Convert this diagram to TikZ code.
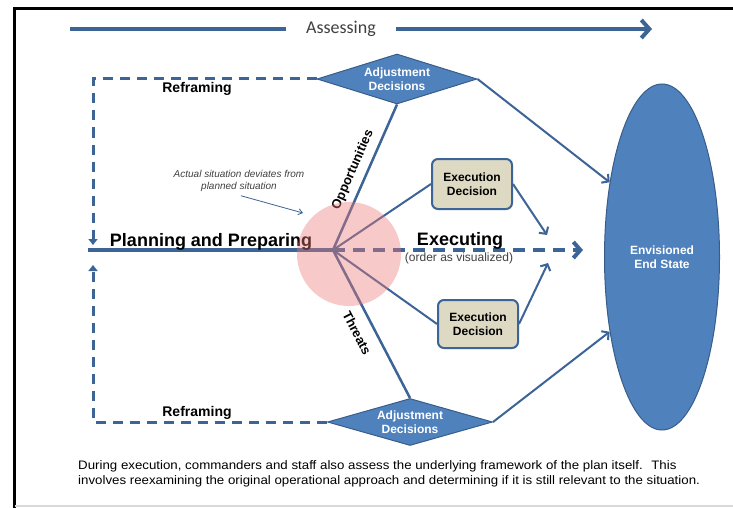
\documentclass[tikz,border=0pt]{standalone}
\usepackage{fontspec}
\setmainfont{Liberation Sans}
\newfontfamily\califont{Carlito}
\newfontfamily\widefont[FakeStretch=1.08]{Liberation Sans}
\usetikzlibrary{shapes.geometric,arrows.meta}
\definecolor{lineblue}{RGB}{60,100,150}
\definecolor{fillblue}{RGB}{79,129,189}
\definecolor{edgeblue}{RGB}{56,93,138}
\definecolor{tanc}{RGB}{221,217,195}
\definecolor{pinkc}{RGB}{235,120,120}
\definecolor{txtgray}{RGB}{64,64,64}
\begin{document}
\begin{tikzpicture}[x=1pt,y=-1pt,
  conn/.style={draw=lineblue, line width=2pt},
  thinbarb/.style={-{Straight Barb[length=5pt,width=11pt]}},
  reframe/.style={draw=lineblue, line width=3pt, dash pattern=on 10pt off 7pt, -{Triangle[length=6pt,width=9pt]}},
  adj/.style={diamond, aspect=3.5, inner sep=0pt, fill=fillblue, draw=edgeblue, line width=1pt, text=white, font=\bfseries\fontsize{12}{14.5}\selectfont, align=center},
  edbox/.style={rectangle, rounded corners=6pt, minimum width=80pt, minimum height=50pt, fill=tanc, draw=lineblue, line width=2pt, font=\bfseries\fontsize{12}{14.5}\selectfont, align=center},
  bold18/.style={font=\bfseries\fontsize{18}{20}\selectfont},
  reftext/.style={font=\bfseries\fontsize{14}{16}\selectfont},
  rotlabel/.style={font=\bfseries\fontsize{13}{15}\selectfont, inner sep=1pt}
]
\useasboundingbox (0,0) rectangle (733,508);
\fill[white] (0,0) rectangle (733,508);
% frame
\draw[black, line width=3pt] (14.5,508) -- (14.5,8.5) -- (733,8.5);
\draw[black!15, line width=1.5pt] (14.5,506) -- (733,506);

% Assessing
\node[font=\califont\fontsize{18}{20}\selectfont, text=txtgray, inner xsep=20pt] (assess) at (341,29) {Assessing};
\coordinate (asA) at (70,29);
\coordinate (asB) at (652,29);
\draw[lineblue, line width=4pt] (asA) -- (assess.west);
\draw[lineblue, line width=4pt, -{Straight Barb[length=8pt,width=18pt]}] (assess.east) -- (asB);

% main nodes
\node[adj, minimum width=160pt, minimum height=50pt] (adjT) at (397,79) {Adjustment\\Decisions};
\node[adj, minimum width=165pt, minimum height=47pt] (adjB) at (410,422) {Adjustment\\Decisions};
\node[ellipse, minimum width=115pt, minimum height=346pt, inner sep=0pt, fill=fillblue, draw=edgeblue, line width=1pt, text=white, font=\bfseries\fontsize{12}{14.5}\selectfont, align=center] (es) at (662,257) {Envisioned\\End State};
\node[edbox] (ed1) at (472,184) {Execution\\Decision};
\node[edbox, minimum height=48pt] (ed2) at (478,324) {Execution\\Decision};

\coordinate (c) at (333,250);
\coordinate (ppS) at (88,250);
\coordinate (exE) at (583,250);

% planning line and executing dashed
\draw[lineblue, line width=3.5pt] (ppS) -- (c);
\draw[lineblue, line width=4pt, dash pattern=on 12pt off 8pt, -{Straight Barb[length=7pt,width=16pt]}] (c) -- (exE);

% fan lines
\draw[conn, line width=2.5pt] (c) -- (adjT.south);
\draw[conn, line width=2.5pt] (c) -- (adjB.north);
\draw[conn] (c) -- (ed1.west);
\draw[conn] (c) -- (ed2.west);
\coordinate (t1) at (547,235);
\coordinate (t2) at (548,263);
\draw[conn, thinbarb] (ed1.east) -- (t1);
\draw[conn, thinbarb] (ed2.east) -- (t2);
\draw[conn, thinbarb] (adjT.east) -- (es.125);
\draw[conn, thinbarb] (adjB.east) -- (es.235);

% reframing loops
\coordinate (rfT) at (93,79);
\coordinate (rfTe) at (93,245);
\coordinate (rfB) at (93,422);
\coordinate (rfBe) at (93,265);
\draw[reframe] (adjT.west) -- (rfT) -- (rfTe);
\draw[reframe] (adjB.west) -- (rfB) -- (rfBe);

% labels
\node[reftext] (rf1) at (197,89) {Reframing};
\node[reftext] (rf2) at (197,413) {Reframing};
\node[bold18, anchor=base] (pp) at (211,246) {Planning and Preparing};
\node[bold18, anchor=base] (ex) at (460,245) {Executing};
\node[font=\fontsize{12}{14}\selectfont, text=txtgray] (ov) at (459,258) {(order as visualized)};
\node[rotlabel, rotate=66.3] (opp) at (353,170) {Opportunities};
\node[rotlabel, rotate=-62.7] (thr) at (357,333) {Threats};

% annotation
\node[font=\itshape\fontsize{10}{12}\selectfont, text=txtgray, align=center] (ann) at (239,181) {Actual situation deviates from\\planned situation};
\coordinate (annT) at (303,213);
\draw[lineblue, line width=0.8pt, shorten <=2pt, -{Straight Barb[length=4pt,width=6pt]}] (ann.south) -- (annT);

% deviation circle
\node[circle, minimum size=104pt, inner sep=0pt, fill=pinkc, fill opacity=0.4] (pc) at (349,254) {};

% bottom note
\node[anchor=north west, align=left, font=\widefont\fontsize{12.3}{15}\selectfont, inner sep=0pt] (note) at (78,460) {During execution, commanders and staff also assess the underlying framework of the plan itself.~ This\\involves reexamining the original operational approach and determining if it is still relevant to the situation.};
\end{tikzpicture}
\end{document}
